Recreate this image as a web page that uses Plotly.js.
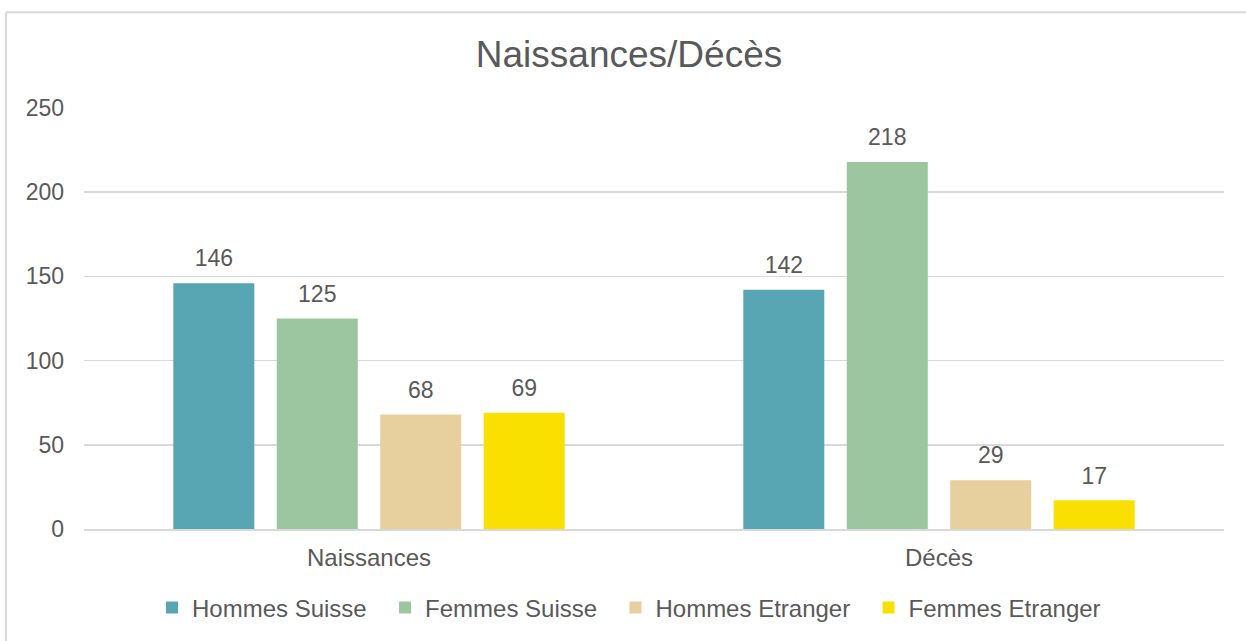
<!DOCTYPE html>
<html>
<head>
<meta charset="utf-8">
<script src="https://cdn.plot.ly/plotly-3.0.1.min.js"></script>
<style>
html,body{margin:0;padding:0;background:#fff;}
#chart{width:1246px;height:641px;}
</style>
</head>
<body>
<div id="chart"></div>
<script>
const categories = ['Naissances', 'Décès'];
const seriesNames = ['Hommes Suisse', 'Femmes Suisse', 'Hommes Etranger', 'Femmes Etranger'];
const hommesSuisse = [146, 142];
const femmesSuisse = [125, 218];
const hommesEtranger = [68, 29];
const femmesEtranger = [69, 17];
const seriesColors = ['#58A6B3', '#9CC6A0', '#E7CF9E', '#FAE000'];
const yTicks = [0, 50, 100, 150, 200, 250];

const seriesValues = [hommesSuisse, femmesSuisse, hommesEtranger, femmesEtranger];
const textColor = '#595959';
const fontFamily = 'Liberation Sans, Arial, sans-serif';
const pad = '\u00A0\u00A0';

const traces = [];
seriesValues.forEach((vals, i) => {
  traces.push({
    type: 'bar',
    name: seriesNames[i] + (i < seriesNames.length - 1 ? pad : ''),
    x: categories,
    y: vals,
    marker: {color: seriesColors[i]},
    hoverinfo: 'x+y+name'
  });
});
seriesValues.forEach((vals, i) => {
  traces.push({
    type: 'scatter',
    mode: 'markers+text',
    x: categories,
    y: vals,
    text: vals.map(String),
    textposition: 'top center',
    textfont: {size: 23, color: textColor, family: fontFamily},
    marker: {size: 16, opacity: 0, color: seriesColors[i]},
    showlegend: false,
    hoverinfo: 'skip',
    cliponaxis: false
  });
});

const layout = {
  width: 1246,
  height: 641,
  margin: {l: 84, r: 22, t: 108, b: 111},
  paper_bgcolor: '#ffffff',
  plot_bgcolor: '#ffffff',
  font: {family: fontFamily, color: textColor, size: 23},
  title: {
    text: 'Naissances/Décès',
    font: {size: 37, color: textColor, family: fontFamily},
    x: 629 / 1246, xref: 'container', xanchor: 'center',
    y: 1 - 54 / 641, yref: 'container', yanchor: 'middle'
  },
  barmode: 'group',
  bargap: 0.274,
  bargroupgap: 0.217,
  scattermode: 'group',
  scattergap: 0.274,
  showlegend: true,
  legend: {
    orientation: 'h',
    x: (629 - 84) / 1140, xref: 'paper', xanchor: 'center',
    y: (530 - 608) / 422, yanchor: 'middle',
    font: {size: 24, color: textColor, family: fontFamily},
    traceorder: 'normal'
  },
  xaxis: {
    type: 'category',
    showgrid: false,
    showline: true,
    linecolor: '#D9D9D9',
    linewidth: 1.5,
    ticks: '',
    ticklabelstandoff: 7,
    tickfont: {size: 24, color: textColor, family: fontFamily},
    fixedrange: true
  },
  yaxis: {
    range: [0, 250],
    tickvals: yTicks,
    showgrid: true,
    gridcolor: '#D9D9D9',
    gridwidth: 1.5,
    zeroline: false,
    showline: false,
    ticks: '',
    ticklabelstandoff: 19,
    tickfont: {size: 23, color: textColor, family: fontFamily},
    fixedrange: true
  },
  shapes: [
    {type: 'line', xref: 'paper', yref: 'paper',
     x0: (6 - 84) / 1140, x1: (6 - 84) / 1140, y0: (530 - 12) / 422, y1: -0.4,
     line: {color: '#D9D9D9', width: 2}, layer: 'below'},
    {type: 'line', xref: 'paper', yref: 'paper',
     x0: (6 - 84) / 1140, x1: 1.1, y0: (530 - 12) / 422, y1: (530 - 12) / 422,
     line: {color: '#D9D9D9', width: 2}, layer: 'below'}
  ]
};

Plotly.newPlot('chart', traces, layout, {displayModeBar: false, staticPlot: true});
</script>
</body>
</html>
